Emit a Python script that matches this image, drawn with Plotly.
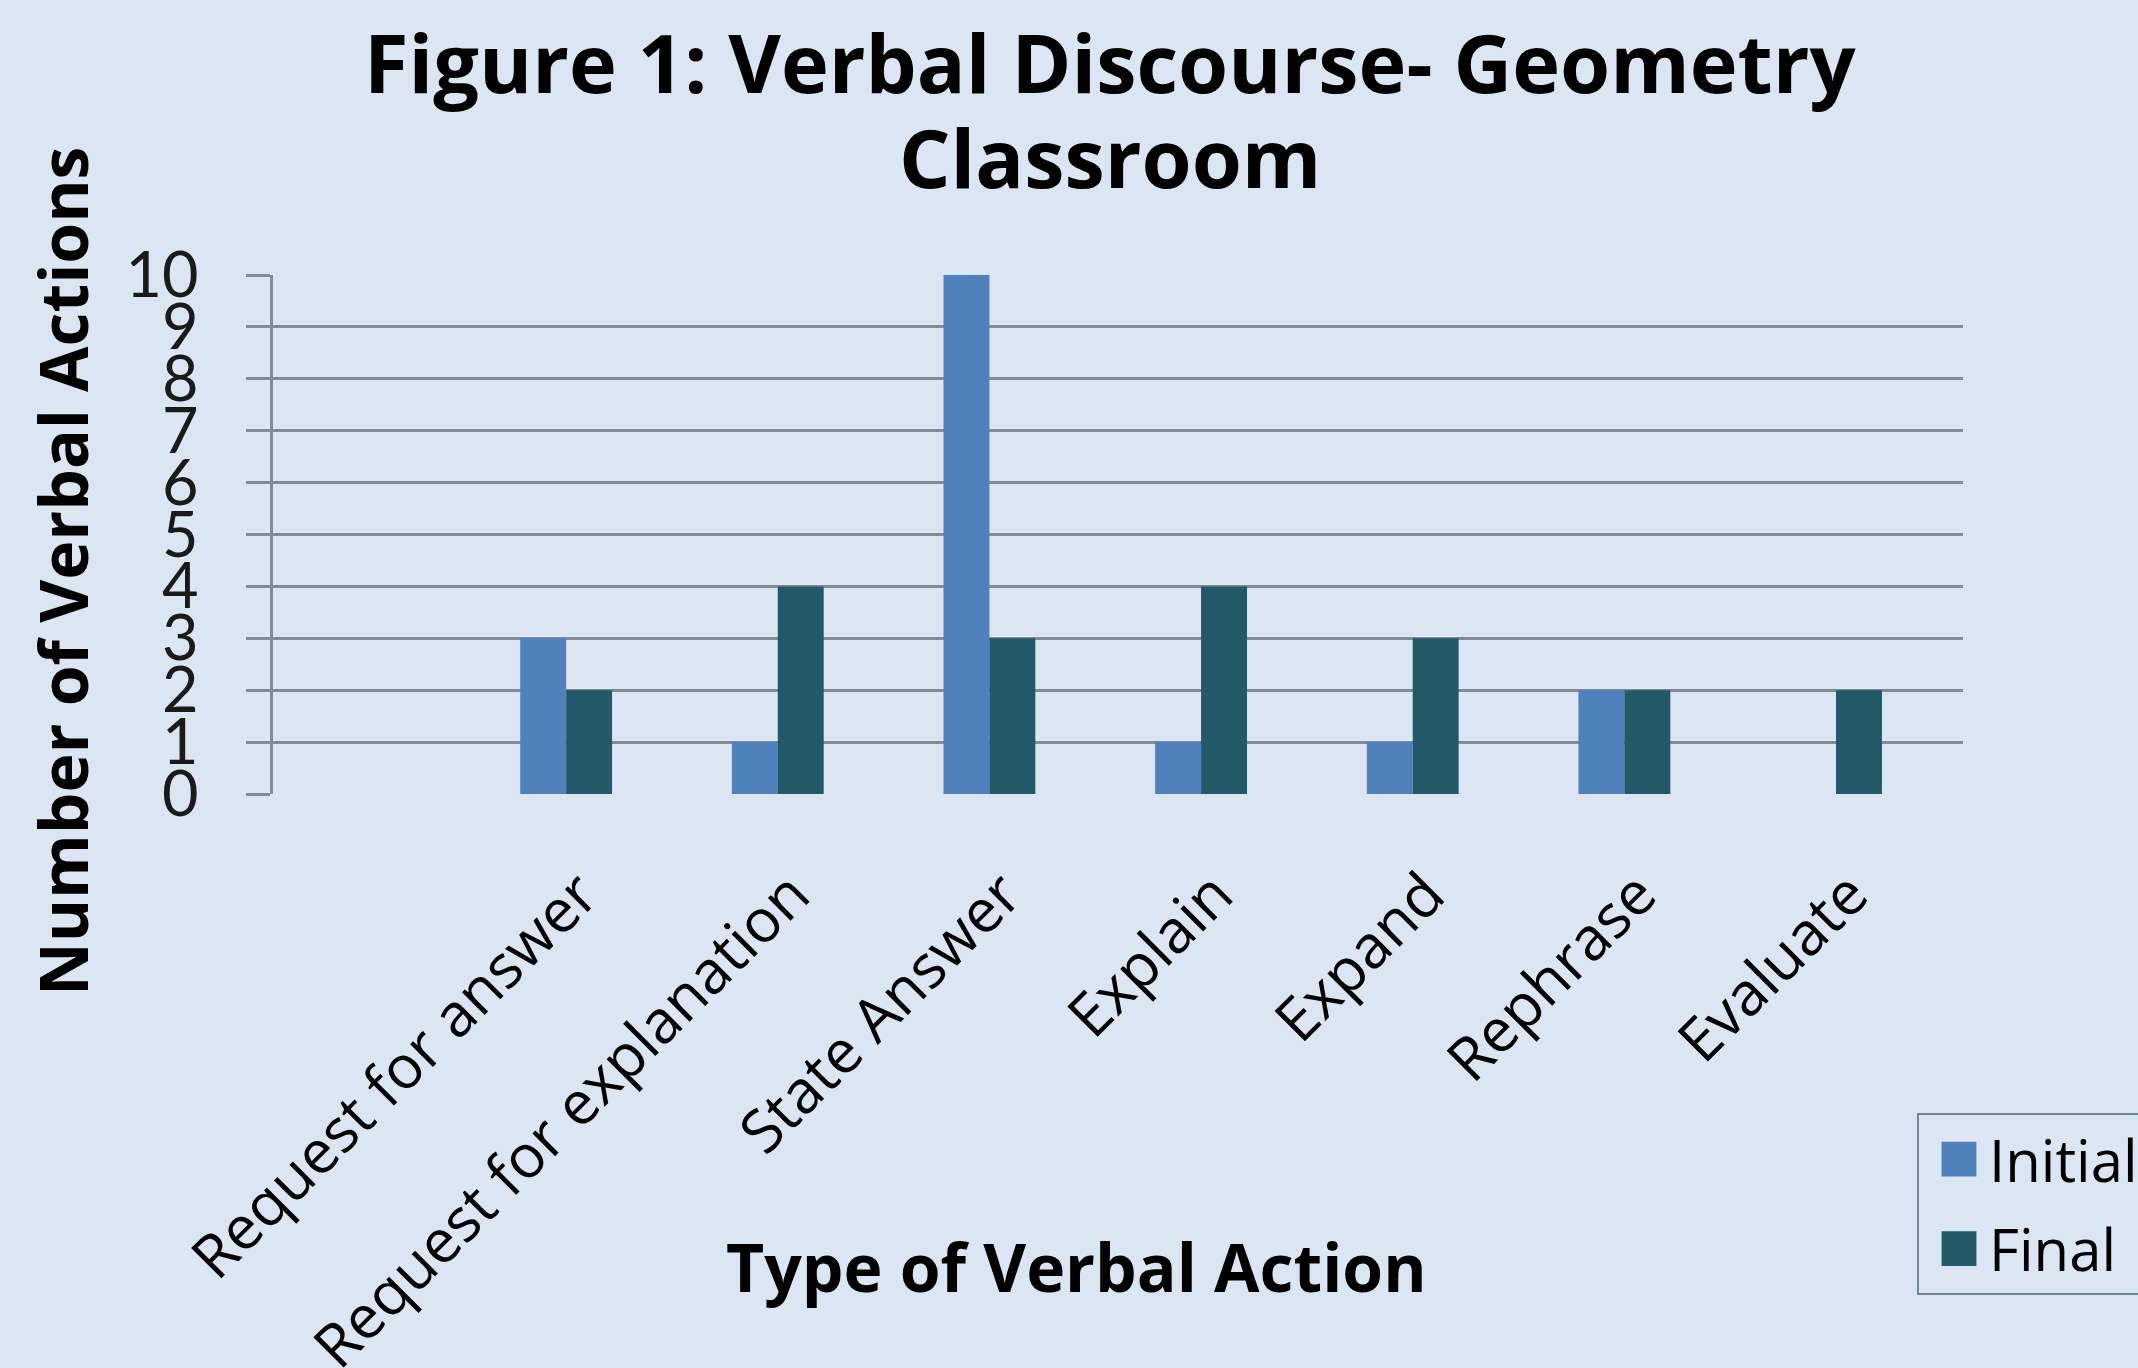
import plotly.graph_objects as go

categories = ["Request for answer", "Request for explanation", "State Answer",
              "Explain", "Expand", "Rephrase", "Evaluate"]
initial = [3, 1, 10, 1, 1, 2, 0]
final = [2, 4, 3, 4, 3, 2, 2]
y_ticks = list(range(0, 11))

BG = "#DCE6F2"
GRID = "#838B95"

fig = go.Figure()
fig.add_trace(go.Bar(name="Initial", x=categories, y=initial,
                     marker=dict(color="#4F81BD", line=dict(width=0)),
                     legendgroup="a"))
fig.add_trace(go.Bar(name="Final", x=categories, y=final,
                     marker=dict(color="#215968", line=dict(width=0)),
                     legendgroup="b"))

W, H = 2138, 1368
L, R, T, B = 273, 1963, 275, 794


def px(xp):
    return (xp - L) / (R - L)


def py(yp):
    return (B - yp) / (B - T)


title_font = dict(family="Open Sans", size=81, weight="bold", color="#000000")

fig.update_layout(
    width=W, height=H,
    paper_bgcolor=BG, plot_bgcolor=BG,
    margin=dict(l=L, r=W - R, t=T, b=H - B, autoexpand=False),
    barmode="group", bargap=0.566, bargroupgap=0,
    font=dict(family="Open Sans", color="#000000"),
    xaxis=dict(type="category", range=[-1.385, 6.60],
               tickangle=-45, tickfont=dict(family="Open Sans", size=60, color="#000000"),
               showgrid=False, zeroline=False, showline=False,
               ticks="", ticklabelstandoff=52, ticklabelshift=14, automargin=False),
    yaxis=dict(range=[0, 10], tickvals=y_ticks, ticktext=[str(v) for v in y_ticks],
               tickfont=dict(family="Lato", size=63, color="#1a1a1a"),
               showgrid=True, gridcolor=GRID, gridwidth=2.5,
               zeroline=False, showline=True, linecolor=GRID, linewidth=2.5,
               ticks="outside", ticklen=24, tickcolor=GRID, tickwidth=2.5,
               ticklabelstandoff=35, automargin=False),
    legend=dict(x=px(1917), xanchor="left",
                y=py(1113), yanchor="top",
                bgcolor=BG, bordercolor="#6E8A96", borderwidth=2,
                font=dict(family="Open Sans", size=58, color="#000000"),
                itemwidth=60,
                tracegroupgap=11, traceorder="grouped"),
    annotations=[
        dict(text="Figure 1: Verbal Discourse- Geometry",
             x=px(1110), y=py(4), xref="paper", yref="paper", showarrow=False,
             xanchor="center", yanchor="top", align="center", font=title_font),
        dict(text="Classroom",
             x=px(1110), y=py(99), xref="paper", yref="paper", showarrow=False,
             xanchor="center", yanchor="top", align="center", font=title_font),
        dict(text="Number of Verbal Actions", textangle=-90,
             x=px(62), y=py(572),
             xref="paper", yref="paper", showarrow=False,
             xanchor="center", yanchor="middle",
             font=dict(family="Open Sans", size=66, weight="bold", color="#000000")),
        dict(text="Type of Verbal Action",
             x=px(1076), y=py(1266),
             xref="paper", yref="paper", showarrow=False,
             xanchor="center", yanchor="middle",
             font=dict(family="Open Sans", size=66, weight="bold", color="#000000")),
    ],
)

post = """
document.body.style.margin = '0';
document.body.style.overflow = 'hidden';
var bg = document.querySelector('.legend .bg');
if (bg) {
  var lb = bg.getBoundingClientRect();
  document.querySelectorAll('.legend .legendpoints path').forEach(function(p){
    p.removeAttribute('transform');
    var r = p.getBoundingClientRect();
    var cx = r.left + r.width / 2;
    var dx = (lb.left + 41) - cx;
    p.setAttribute('transform', 'translate(' + dx + ',0) scale(2.9)');
  });
}
"""

fig.write_html("out.html", post_script=post, config={"displayModeBar": False})
